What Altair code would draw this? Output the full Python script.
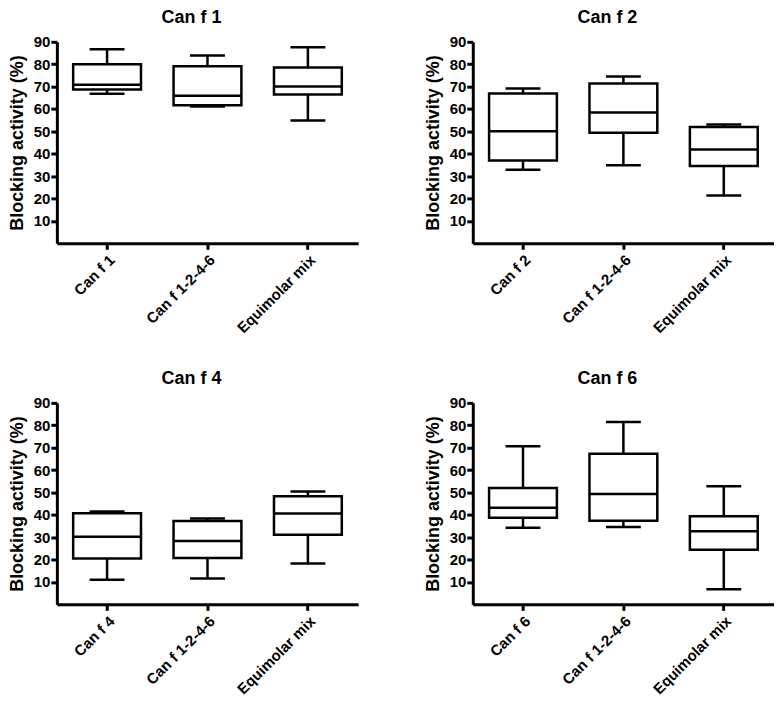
import altair as alt
import pandas as pd

titles = ["Can f 1", "Can f 2", "Can f 4", "Can f 6"]
categories = [
    ["Can f 1", "Can f 1-2-4-6", "Equimolar mix"],
    ["Can f 2", "Can f 1-2-4-6", "Equimolar mix"],
    ["Can f 4", "Can f 1-2-4-6", "Equimolar mix"],
    ["Can f 6", "Can f 1-2-4-6", "Equimolar mix"],
]
mins = [
    [66.8, 61.1, 54.9],
    [32.9, 34.9, 21.4],
    [11.0, 11.5, 18.2],
    [34.2, 34.6, 6.7],
]
q1s = [
    [68.7, 61.7, 66.5],
    [37.0, 49.4, 34.5],
    [20.5, 20.7, 31.1],
    [38.7, 37.3, 24.4],
]
medians = [
    [70.8, 65.9, 70.0],
    [50.0, 58.4, 41.9],
    [30.2, 28.3, 40.6],
    [43.1, 49.3, 32.6],
]
q3s = [
    [80.0, 79.1, 78.5],
    [66.9, 71.4, 51.9],
    [40.7, 37.2, 48.3],
    [52.0, 67.3, 39.4],
]
maxs = [
    [86.7, 83.9, 87.6],
    [69.1, 74.5, 53.1],
    [41.5, 38.4, 50.4],
    [70.6, 81.5, 52.7],
]
y_ticks = [10, 20, 30, 40, 50, 60, 70, 80, 90]

FONT = "Liberation Sans"
W, H = 302, 202
LW = 2.5


def panel(i):
    df = pd.DataFrame({
        "cat": categories[i],
        "lo": mins[i],
        "q1": q1s[i],
        "med": medians[i],
        "q3": q3s[i],
        "hi": maxs[i],
    })
    x = alt.X("cat:N", sort=categories[i],
              scale=alt.Scale(paddingInner=0, paddingOuter=0),
              axis=alt.Axis(title=None, labelAngle=-45))
    yscale = alt.Scale(domain=[0, 90], nice=False, zero=True)
    yaxis = alt.Axis(title="Blocking activity (%)", values=y_ticks, labelOverlap=False)
    base = alt.Chart(df)
    whisker = base.mark_rule(color="black", strokeWidth=LW).encode(
        x=x,
        y=alt.Y("lo:Q", scale=yscale, axis=yaxis),
        y2="hi:Q",
    )
    box = base.mark_bar(size=68, fill="white", stroke="black", strokeWidth=LW).encode(
        x=x, y=alt.Y("q1:Q", scale=yscale, axis=yaxis), y2="q3:Q"
    )
    med = base.mark_tick(size=68, thickness=LW, color="black", opacity=1).encode(
        x=x, y=alt.Y("med:Q", scale=yscale, axis=yaxis)
    )
    cap_lo = base.mark_tick(size=35, thickness=LW, color="black", opacity=1).encode(
        x=x, y=alt.Y("lo:Q", scale=yscale, axis=yaxis)
    )
    cap_hi = base.mark_tick(size=35, thickness=LW, color="black", opacity=1).encode(
        x=x, y=alt.Y("hi:Q", scale=yscale, axis=yaxis)
    )
    return alt.layer(whisker, cap_lo, cap_hi, box, med).properties(
        width=W, height=H,
        title=alt.TitleParams(titles[i], fontSize=18, font=FONT, fontWeight="bold",
                              anchor="middle", dx=-16, offset=8, color="black"),
    )


row1 = alt.hconcat(panel(0), panel(1), spacing=66)
row2 = alt.hconcat(panel(2), panel(3), spacing=66)
chart = alt.vconcat(row1, row2, spacing=34).properties(
    padding={"left": 0, "top": 0, "right": 0, "bottom": 0}
).configure_view(stroke=None).configure_axis(
    grid=False,
    domainColor="black", domainWidth=3,
    tickColor="black", tickWidth=3, tickSize=6,
    labelFont=FONT, labelFontWeight="bold", labelFontSize=15, labelColor="black",
    labelPadding=1,
    titleFont=FONT, titleFontWeight="bold", titleFontSize=18, titleColor="black",
    titlePadding=7,
).configure_axisX(labelPadding=3).configure_axisY(labelOverlap=False)

chart.save("out.html", embed_options={"renderer": "svg", "actions": False})
